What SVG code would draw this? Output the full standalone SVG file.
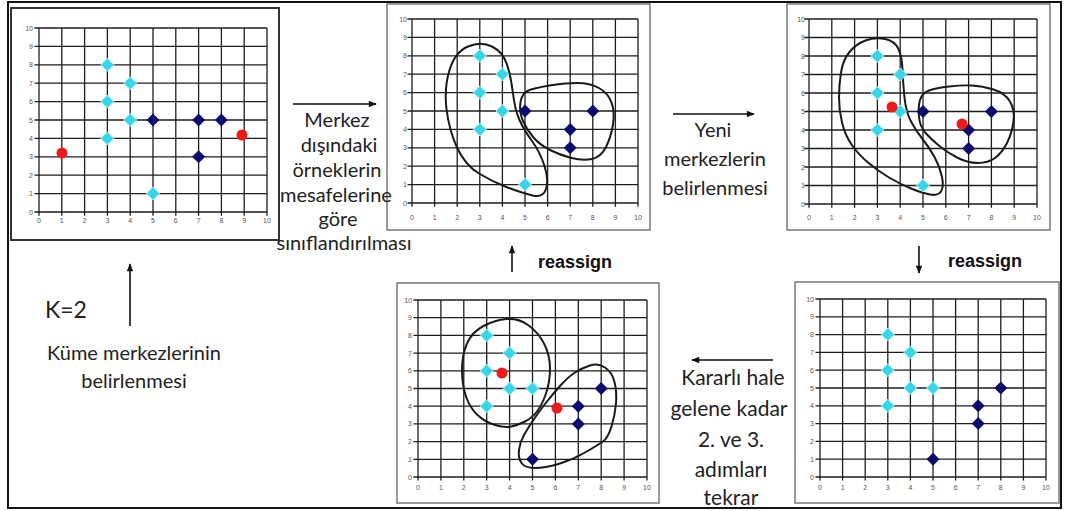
<svg xmlns="http://www.w3.org/2000/svg" xmlns:xlink="http://www.w3.org/1999/xlink" width="1066" height="511" viewBox="0 0 1066 511">
<defs>
<style>
.frame{fill:none;stroke:#111;stroke-width:2}
.box{fill:#fff;stroke:#777;stroke-width:1.5}
.box1{fill:#fff;stroke:#333;stroke-width:2}
.grid{fill:none;stroke:#1e1e1e;stroke-width:1.3;vector-effect:non-scaling-stroke}
.tk{font-family:"Liberation Sans",Arial,sans-serif;font-size:7px;fill:#555;text-anchor:middle}
.tky{text-anchor:end}
.cy{fill:#35d5ea;stroke:#a8eef6;stroke-width:1}
.nv{fill:#0c0c6e}
.rd{fill:#ee1b1b}
.blob{fill:none;stroke:#1a1a1a;stroke-width:2;stroke-linejoin:round}
.lbl{font-family:Lato,"Open Sans",sans-serif;font-size:20px;fill:#222;text-anchor:middle}
.ra{font-family:"Liberation Sans",Arial,sans-serif;font-weight:bold;font-size:18px;fill:#111}
.arr{stroke:#111;stroke-width:1.6;fill:none;marker-end:url(#ah)}
</style>
<marker id="ah" viewBox="0 0 10 10" refX="9" refY="5" markerWidth="9" markerHeight="8" markerUnits="userSpaceOnUse" orient="auto"><path d="M0,1L10,5L0,9Z" fill="#111"/></marker>
<path id="grid" class="grid" d="M0,-0.2V10M1,-0.2V10M2,-0.2V10M3,-0.2V10M4,-0.2V10M5,-0.2V10M6,-0.2V10M7,-0.2V10M8,-0.2V10M9,-0.2V10M10,-0.2V10M-0.2,0H10M-0.2,1H10M-0.2,2H10M-0.2,3H10M-0.2,4H10M-0.2,5H10M-0.2,6H10M-0.2,7H10M-0.2,8H10M-0.2,9H10M-0.2,10H10"/>
<path id="dm" d="M0,-6.5L6.5,0L0,6.5L-6.5,0Z"/>
</defs>
<rect width="1066" height="511" fill="#fff"/>
<rect class="frame" x="8" y="2" width="1053" height="506"/>

<g id="panel1">
<rect class="box1" x="11" y="8" width="268" height="232"/>
<use href="#grid" transform="translate(39,212) scale(22.8,-18.4)"/>
<text class="tk" y="223"><tspan x="39">0</tspan><tspan x="61.8">1</tspan><tspan x="84.6">2</tspan><tspan x="107.4">3</tspan><tspan x="130.2">4</tspan><tspan x="153">5</tspan><tspan x="175.8">6</tspan><tspan x="198.6">7</tspan><tspan x="221.4">8</tspan><tspan x="244.2">9</tspan><tspan x="267">10</tspan></text>
<text class="tk tky"><tspan x="33" y="214.5">0</tspan><tspan x="33" y="196.1">1</tspan><tspan x="33" y="177.7">2</tspan><tspan x="33" y="159.3">3</tspan><tspan x="33" y="140.9">4</tspan><tspan x="33" y="122.5">5</tspan><tspan x="33" y="104.1">6</tspan><tspan x="33" y="85.7">7</tspan><tspan x="33" y="67.3">8</tspan><tspan x="33" y="48.9">9</tspan><tspan x="33" y="30.5">10</tspan></text>
<use href="#dm" class="cy" x="107.4" y="64.8"/><use href="#dm" class="cy" x="130.2" y="83.2"/><use href="#dm" class="cy" x="107.4" y="101.6"/><use href="#dm" class="cy" x="130.2" y="120"/><use href="#dm" class="cy" x="107.4" y="138.4"/><use href="#dm" class="cy" x="153" y="193.6"/>
<use href="#dm" class="nv" x="153" y="120"/><use href="#dm" class="nv" x="198.6" y="120"/><use href="#dm" class="nv" x="221.4" y="120"/><use href="#dm" class="nv" x="198.6" y="156.8"/>
<circle class="rd" cx="62" cy="153" r="5.5"/><circle class="rd" cx="242" cy="135" r="5.5"/>
</g>

<g id="panel2">
<rect class="box" x="387" y="4" width="263" height="226"/>
<use href="#grid" transform="translate(412,203) scale(22.6,-18.4)"/>
<text class="tk" y="219.5"><tspan x="412">0</tspan><tspan x="434.6">1</tspan><tspan x="457.2">2</tspan><tspan x="479.8">3</tspan><tspan x="502.4">4</tspan><tspan x="525">5</tspan><tspan x="547.6">6</tspan><tspan x="570.2">7</tspan><tspan x="592.8">8</tspan><tspan x="615.4">9</tspan><tspan x="638">10</tspan></text>
<text class="tk tky"><tspan x="407" y="205.5">0</tspan><tspan x="407" y="187.1">1</tspan><tspan x="407" y="168.7">2</tspan><tspan x="407" y="150.3">3</tspan><tspan x="407" y="131.9">4</tspan><tspan x="407" y="113.5">5</tspan><tspan x="407" y="95.1">6</tspan><tspan x="407" y="76.7">7</tspan><tspan x="407" y="58.3">8</tspan><tspan x="407" y="39.9">9</tspan><tspan x="407" y="21.5">10</tspan></text>
<path class="blob" d="M468,46.5 Q481,41 492,46.5 Q503,52 507,64.5 Q511,77 513,93.5 Q515,110 519.5,120 Q524,130 532,141 Q540,152 544.5,166 Q549,180 546,189 Q543,198 532.5,195.5 Q522,193 507.5,187.5 Q493,182 479,173.5 Q465,165 457,147.5 Q449,130 446.5,109 Q444,88 449.5,70 Q455,52 468,46.5Z"/>
<path class="blob" d="M520.5,102 Q522,92 531,89.5 Q540,87 552.5,85 Q565,83 577.5,83 Q590,83 599,88 Q608,93 611.5,102.5 Q615,112 613,124.5 Q611,137 606,147 Q601,157 592,159 Q583,161 571.5,158 Q560,155 550,150 Q540,145 533.5,137.5 Q527,130 523,121 Q519,112 520.5,102Z"/>
<use href="#dm" class="cy" x="479.8" y="55.8"/><use href="#dm" class="cy" x="502.4" y="74.2"/><use href="#dm" class="cy" x="479.8" y="92.6"/><use href="#dm" class="cy" x="502.4" y="111"/><use href="#dm" class="cy" x="479.8" y="129.4"/><use href="#dm" class="cy" x="525" y="184.6"/>
<use href="#dm" class="nv" x="525" y="111"/><use href="#dm" class="nv" x="570.2" y="129.4"/><use href="#dm" class="nv" x="570.2" y="147.8"/><use href="#dm" class="nv" x="592.8" y="111"/>
</g>

<g id="panel3">
<rect class="box" x="787" y="4" width="263" height="226"/>
<use href="#grid" transform="translate(809,204) scale(22.8,-18.5)"/>
<text class="tk" y="219.5"><tspan x="809">0</tspan><tspan x="831.8">1</tspan><tspan x="854.6">2</tspan><tspan x="877.4">3</tspan><tspan x="900.2">4</tspan><tspan x="923">5</tspan><tspan x="945.8">6</tspan><tspan x="968.6">7</tspan><tspan x="991.4">8</tspan><tspan x="1014.2">9</tspan><tspan x="1037">10</tspan></text>
<text class="tk tky"><tspan x="805" y="206.5">0</tspan><tspan x="805" y="188">1</tspan><tspan x="805" y="169.5">2</tspan><tspan x="805" y="151">3</tspan><tspan x="805" y="132.5">4</tspan><tspan x="805" y="114">5</tspan><tspan x="805" y="95.5">6</tspan><tspan x="805" y="77">7</tspan><tspan x="805" y="58.5">8</tspan><tspan x="805" y="40">9</tspan><tspan x="805" y="21.5">10</tspan></text>
<path class="blob" d="M865.5,40.5 Q875,37 885,39 Q895,41 898.5,49 Q902,57 902.5,70 Q903,83 904.5,97.5 Q906,112 911,121.5 Q916,131 922.5,139 Q929,147 934.5,157 Q940,167 942,177 Q944,187 941,191.5 Q938,196 930,194.5 Q922,193 911,188.5 Q900,184 889,177.5 Q878,171 868,162.5 Q858,154 851.5,144.5 Q845,135 842,122.5 Q839,110 839,97.5 Q839,85 841,72.5 Q843,60 849.5,52 Q856,44 865.5,40.5Z"/>
<path class="blob" d="M920,100 Q922,93 929,90.5 Q936,88 949,86.5 Q962,85 972,85.5 Q982,86 993.5,89.5 Q1005,93 1010,101.5 Q1015,110 1013.5,121.5 Q1012,133 1007,143 Q1002,153 995,158 Q988,163 978,163 Q968,163 958,158 Q948,153 940,146.5 Q932,140 926,133.5 Q920,127 919,117 Q918,107 920,100Z"/>
<use href="#dm" class="cy" x="877.4" y="56"/><use href="#dm" class="cy" x="900.2" y="74.5"/><use href="#dm" class="cy" x="877.4" y="93"/><use href="#dm" class="cy" x="900.2" y="111.5"/><use href="#dm" class="cy" x="877.4" y="130"/><use href="#dm" class="cy" x="923" y="185.5"/>
<use href="#dm" class="nv" x="923" y="111.5"/><use href="#dm" class="nv" x="968.6" y="130"/><use href="#dm" class="nv" x="968.6" y="148.5"/><use href="#dm" class="nv" x="991.4" y="111.5"/>
<circle class="rd" cx="892" cy="107" r="5.5"/><circle class="rd" cx="962" cy="124" r="5.5"/>
</g>

<g id="panel4">
<rect class="box" x="397" y="283" width="262" height="220"/>
<use href="#grid" transform="translate(418,477) scale(22.9,-17.7)"/>
<text class="tk" y="490"><tspan x="418">0</tspan><tspan x="440.9">1</tspan><tspan x="463.8">2</tspan><tspan x="486.7">3</tspan><tspan x="509.6">4</tspan><tspan x="532.5">5</tspan><tspan x="555.4">6</tspan><tspan x="578.3">7</tspan><tspan x="601.2">8</tspan><tspan x="624.1">9</tspan><tspan x="647">10</tspan></text>
<text class="tk tky"><tspan x="412" y="479.5">0</tspan><tspan x="412" y="461.8">1</tspan><tspan x="412" y="444.1">2</tspan><tspan x="412" y="426.4">3</tspan><tspan x="412" y="408.7">4</tspan><tspan x="412" y="391">5</tspan><tspan x="412" y="373.3">6</tspan><tspan x="412" y="355.6">7</tspan><tspan x="412" y="337.9">8</tspan><tspan x="412" y="320.2">9</tspan><tspan x="412" y="302.5">10</tspan></text>
<path class="blob" d="M483.5,326 Q495,320 506.5,319 Q518,318 528,325 Q538,332 544,343.5 Q550,355 550,368.5 Q550,382 546,393.5 Q542,405 537,411.5 Q532,418 525,421.5 Q518,425 511.5,426.5 Q505,428 495,425 Q485,422 477.5,415 Q470,408 466,396.5 Q462,385 462,370 Q462,355 467,343.5 Q472,332 483.5,326Z"/>
<path class="blob" d="M575,372.5 Q582,368 590,365.5 Q598,363 605,367.5 Q612,372 614.5,382 Q617,392 616,403.5 Q615,415 611.5,426.5 Q608,438 603,441.5 Q598,445 585,452.5 Q572,460 558.5,464 Q545,468 535,468 Q525,468 521.5,463 Q518,458 519,450 Q520,442 524,435 Q528,428 533,420.5 Q538,413 545,404 Q552,395 560,386 Q568,377 575,372.5Z"/>
<use href="#dm" class="cy" x="486.7" y="335.4"/><use href="#dm" class="cy" x="509.6" y="353.1"/><use href="#dm" class="cy" x="486.7" y="370.8"/><use href="#dm" class="cy" x="509.6" y="388.5"/><use href="#dm" class="cy" x="532.5" y="388.5"/><use href="#dm" class="cy" x="486.7" y="406.2"/>
<use href="#dm" class="nv" x="532.5" y="459.3"/><use href="#dm" class="nv" x="578.3" y="406.2"/><use href="#dm" class="nv" x="578.3" y="423.9"/><use href="#dm" class="nv" x="601.2" y="388.5"/>
<circle class="rd" cx="502" cy="373" r="5.5"/><circle class="rd" cx="557" cy="408" r="5.5"/>
</g>

<g id="panel5">
<rect class="box" x="795" y="282" width="264" height="221"/>
<use href="#grid" transform="translate(820,477) scale(22.6,-17.8)"/>
<text class="tk" y="490"><tspan x="820">0</tspan><tspan x="842.6">1</tspan><tspan x="865.2">2</tspan><tspan x="887.8">3</tspan><tspan x="910.4">4</tspan><tspan x="933">5</tspan><tspan x="955.6">6</tspan><tspan x="978.2">7</tspan><tspan x="1000.8">8</tspan><tspan x="1023.4">9</tspan><tspan x="1046">10</tspan></text>
<text class="tk tky"><tspan x="814" y="479.5">0</tspan><tspan x="814" y="461.7">1</tspan><tspan x="814" y="443.9">2</tspan><tspan x="814" y="426.1">3</tspan><tspan x="814" y="408.3">4</tspan><tspan x="814" y="390.5">5</tspan><tspan x="814" y="372.7">6</tspan><tspan x="814" y="354.9">7</tspan><tspan x="814" y="337.1">8</tspan><tspan x="814" y="319.3">9</tspan><tspan x="814" y="301.5">10</tspan></text>
<use href="#dm" class="cy" x="887.8" y="334.6"/><use href="#dm" class="cy" x="910.4" y="352.4"/><use href="#dm" class="cy" x="887.8" y="370.2"/><use href="#dm" class="cy" x="910.4" y="388"/><use href="#dm" class="cy" x="933" y="388"/><use href="#dm" class="cy" x="887.8" y="405.8"/>
<use href="#dm" class="nv" x="933" y="459.2"/><use href="#dm" class="nv" x="978.2" y="405.8"/><use href="#dm" class="nv" x="978.2" y="423.6"/><use href="#dm" class="nv" x="1000.8" y="388"/>
</g>

<g id="connectors">
<line class="arr" x1="130" y1="326" x2="130" y2="264"/>
<line class="arr" x1="293" y1="104" x2="376" y2="104"/>
<line class="arr" x1="673" y1="114" x2="754" y2="114"/>
<line class="arr" x1="512" y1="272" x2="512" y2="246"/>
<line class="arr" x1="919" y1="246" x2="919" y2="273"/>
<line class="arr" x1="773" y1="360" x2="692" y2="360"/>
</g>

<g id="label-k2">
<text x="45" y="318" style="font-family:Lato,'Open Sans',sans-serif;font-size:23px;fill:#222">K=2</text>
</g>
<g id="label-kume">
<text class="lbl" x="134" y="360">Küme merkezlerinin</text>
<text class="lbl" x="134" y="388">belirlenmesi</text>
</g>
<g id="label-merkez">
<text class="lbl" x="337" y="127">Merkez</text>
<text class="lbl" x="339" y="152">dışındaki</text>
<text class="lbl" x="337" y="177">örneklerin</text>
<text class="lbl" x="336" y="202">mesafelerine</text>
<text class="lbl" x="338" y="226">göre</text>
<text class="lbl" x="344" y="250">sınıflandırılması</text>
</g>
<g id="label-yeni">
<text class="lbl" x="713" y="137">Yeni</text>
<text class="lbl" x="715" y="166">merkezlerin</text>
<text class="lbl" x="715" y="195">belirlenmesi</text>
</g>
<g id="label-reassign1">
<text class="ra" x="538" y="268">reassign</text>
</g>
<g id="label-reassign2">
<text class="ra" x="948" y="267">reassign</text>
</g>
<g id="label-kararli">
<text class="lbl" x="733" y="385" style="font-size:21px">Kararlı hale</text>
<text class="lbl" x="729" y="416" style="font-size:21px">gelene kadar</text>
<text class="lbl" x="731" y="447" style="font-size:21px">2. ve 3.</text>
<text class="lbl" x="731" y="477" style="font-size:21px">adımları</text>
<text class="lbl" x="731" y="505" style="font-size:21px">tekrar</text>
</g>
</svg>
